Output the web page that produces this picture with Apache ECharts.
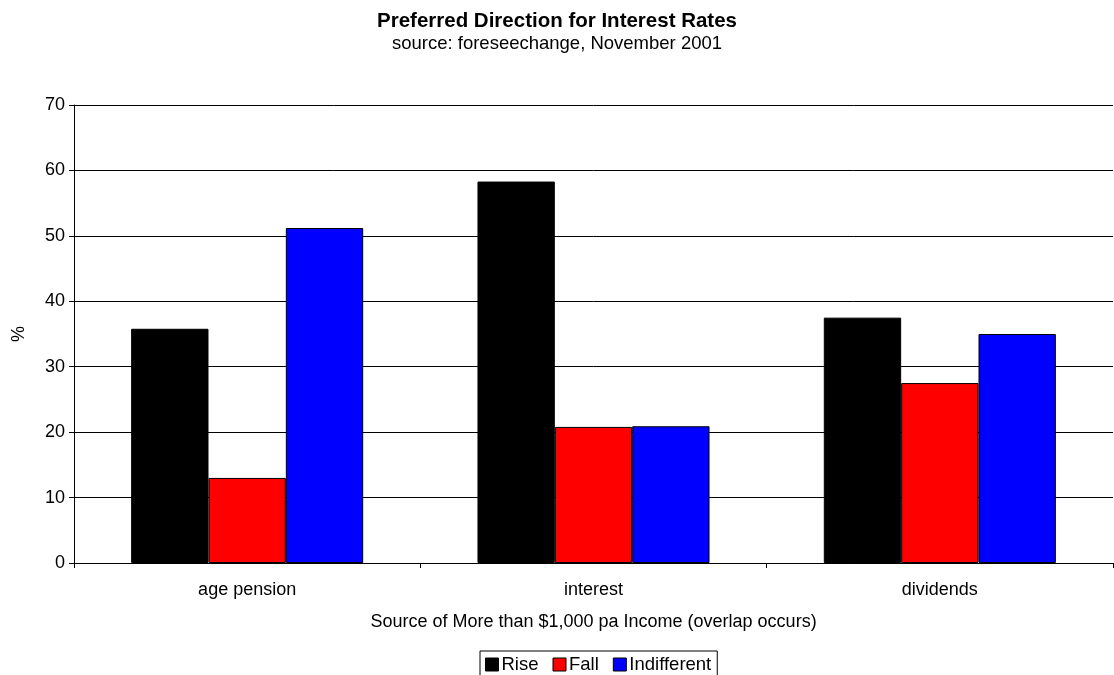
<!DOCTYPE html>
<html>
<head>
<meta charset="utf-8">
<script src="https://cdn.jsdelivr.net/npm/echarts@6/dist/echarts.min.js"></script>
<style>
html,body{margin:0;padding:0;background:#fff;}
#chart{width:1114px;height:675px;}
</style>
</head>
<body>
<div id="chart"></div>
<script>
const categories = ['age pension', 'interest', 'dividends'];
const rise = [35.8, 58.3, 37.5];
const fall = [13.0, 20.8, 27.5];
const indifferent = [51.2, 20.9, 35.0];
const seriesNames = ['Rise', 'Fall', 'Indifferent'];
const seriesColors = ['#000000', '#ff0000', '#0000ff'];

const font = 'Arial, "Liberation Sans", sans-serif';
const chart = echarts.init(document.getElementById('chart'), null, {renderer: 'canvas'});
const seriesData = [rise, fall, indifferent];

chart.setOption({
  backgroundColor: '#ffffff',
  animation: false,
  title: {
    text: 'Preferred Direction for Interest Rates',
    subtext: 'source: foreseechange, November 2001',
    left: 'center',
    top: 6,
    itemGap: 2,
    textStyle: {fontFamily: font, fontSize: 20.5, fontWeight: 'bold', color: '#000'},
    subtextStyle: {fontFamily: font, fontSize: 18.5, color: '#000'}
  },
  legend: {
    data: seriesNames.map((n, i) => ({name: n, itemStyle: {color: seriesColors[i], borderColor: '#000', borderWidth: 1}})),
    left: 480,
    top: 651,
    icon: 'rect',
    itemWidth: 13,
    itemHeight: 13,
    itemGap: 14,
    padding: [4, 6, 6, 5],
    borderColor: '#000',
    borderWidth: 1,
    textStyle: {fontFamily: font, fontSize: 18.5, color: '#000', padding: [0, 0, 0, -2]}
  },
  grid: {left: 74, right: 1, top: 105, bottom: 112, containLabel: false},
  xAxis: {
    type: 'category',
    data: categories,
    name: 'Source of More than $1,000 pa Income (overlap occurs)',
    nameLocation: 'middle',
    nameGap: 50,
    nameTextStyle: {fontFamily: font, fontSize: 18, color: '#000'},
    axisLine: {show: true, lineStyle: {color: '#000', width: 1}},
    axisTick: {show: true, length: 5, lineStyle: {color: '#000'}},
    axisLabel: {fontFamily: font, fontSize: 18, color: '#000', margin: 18}
  },
  yAxis: {
    type: 'value',
    min: 0,
    max: 70,
    interval: 10,
    name: '%',
    nameLocation: 'middle',
    nameGap: 46,
    nameTextStyle: {fontFamily: font, fontSize: 18, color: '#000'},
    axisLine: {show: true, lineStyle: {color: '#000', width: 1}},
    axisTick: {show: true, length: 5, lineStyle: {color: '#000'}},
    axisLabel: {fontFamily: font, fontSize: 18, color: '#000', margin: 9},
    splitLine: {show: true, lineStyle: {color: '#000', width: 1}}
  },
  series: seriesNames.map((n, i) => ({
    name: n,
    type: 'bar',
    data: seriesData[i],
    barGap: '0%',
    barCategoryGap: '33%',
    itemStyle: {color: seriesColors[i], borderColor: '#000', borderWidth: 1}
  }))
});
</script>
</body>
</html>
